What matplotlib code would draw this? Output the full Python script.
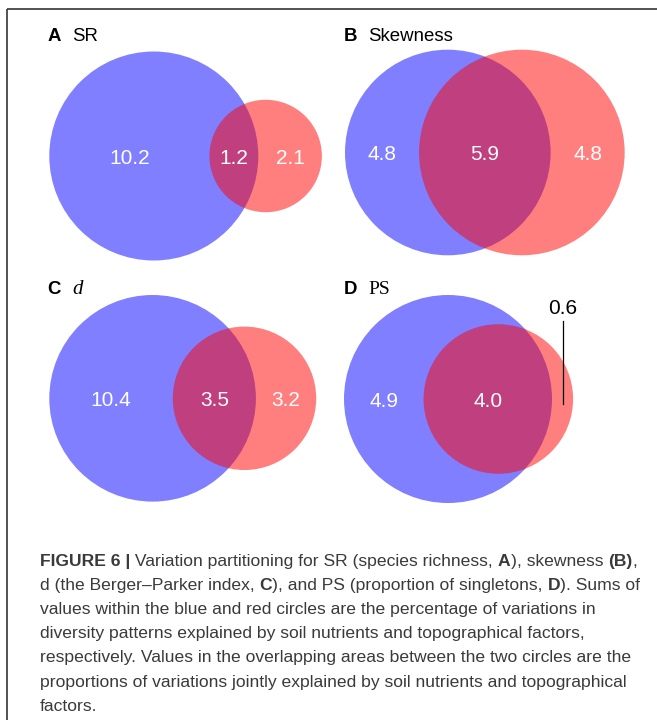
import numpy as np
import matplotlib
matplotlib.use("Agg")
import matplotlib.pyplot as plt
from matplotlib.patches import Circle
from matplotlib.font_manager import FontProperties

# ---------------- data ----------------
panel_letters = ["A", "B", "C", "D"]
panel_names = ["SR", "Skewness", "d", "PS"]
soil_only = [10.2, 4.8, 10.4, 4.9]      # blue circle only
shared = [1.2, 5.9, 3.5, 4.0]           # overlap
topo_only = [2.1, 4.8, 3.2, 0.6]        # red circle only

caption_lines = [
    [("FIGURE 6 |", "bold"), (" Variation partitioning for SR (species richness, ", "normal"),
     ("A", "bold"), ("), skewness ", "normal"), ("(B)", "bold"), (",", "normal")],
    [("d (the Berger\u2013Parker index, ", "normal"), ("C", "bold"),
     ("), and PS (proportion of singletons, ", "normal"), ("D", "bold"), ("). Sums of", "normal")],
    [("values within the blue and red circles are the percentage of variations in", "normal")],
    [("diversity patterns explained by soil nutrients and topographical factors,", "normal")],
    [("respectively. Values in the overlapping areas between the two circles are the", "normal")],
    [("proportions of variations jointly explained by soil nutrients and topographical", "normal")],
    [("factors.", "normal")],
]

# ---------------- layout (pixels) ----------------
W, H = 657, 720
big_radius = [104.5, 102.8, 103.3, 104.0]
left_edge = [49.3, 345.0, 49.3, 344.0]
center_y = [156.0, 152.5, 398.3, 399.0]
title_x = [47.3, 343.3, 47.3, 343.3]
title_gap = [24.4, 25.0, 25.0, 25.0]
title_base = [41.0, 41.0, 293.5, 294.5]
name_fonts = [dict(family="Liberation Sans"), dict(family="Liberation Sans"),
              dict(family="Liberation Serif", style="italic", size=15),
              dict(family="Liberation Serif", size=14)]

fig = plt.figure(figsize=(W / 100, H / 100), dpi=100)
ax = fig.add_axes([0, 0, 1, 1])
ax.set_xlim(0, W)
ax.set_ylim(H, 0)
ax.axis("off")

# frame (top and left)
ax.plot([6.5, W], [8.5, 8.5], color="#444444", lw=1.3, solid_capstyle="butt")
ax.plot([6.5, 6.5], [8.5, H], color="#444444", lw=1.3, solid_capstyle="butt")


def lens_area(r1, r2, d):
    if d >= r1 + r2:
        return 0.0
    if d <= abs(r1 - r2):
        return np.pi * min(r1, r2) ** 2
    a1 = r1 ** 2 * np.arccos((d ** 2 + r1 ** 2 - r2 ** 2) / (2 * d * r1))
    a2 = r2 ** 2 * np.arccos((d ** 2 + r2 ** 2 - r1 ** 2) / (2 * d * r2))
    a3 = 0.5 * np.sqrt((-d + r1 + r2) * (d + r1 - r2) * (d - r1 + r2) * (d + r1 + r2))
    return a1 + a2 - a3


label_font = dict(family="Liberation Sans", size=15)

for i in range(4):
    blue_tot = soil_only[i] + shared[i]
    red_tot = topo_only[i] + shared[i]
    k = np.pi * big_radius[i] ** 2 / max(blue_tot, red_tot)
    rb = np.sqrt(blue_tot * k / np.pi)
    rr = np.sqrt(red_tot * k / np.pi)
    target = shared[i] * k
    lo, hi = abs(rb - rr) + 1e-6, rb + rr
    for _ in range(200):
        mid = 0.5 * (lo + hi)
        if lens_area(rb, rr, mid) > target:
            lo = mid
        else:
            hi = mid
    d = 0.5 * (lo + hi)
    cxb = left_edge[i] + rb
    cxr = cxb + d
    cy = center_y[i]
    ax.add_patch(Circle((cxb, cy), rb, facecolor="blue", alpha=0.5, lw=0))
    ax.add_patch(Circle((cxr, cy), rr, facecolor="red", alpha=0.5, lw=0))

    x_blue_only = 0.5 * ((cxb - rb) + (cxr - rr))
    x_shared = 0.5 * ((cxr - rr) + (cxb + rb))
    x_red_only = 0.5 * ((cxb + rb) + (cxr + rr))
    ty = cy + 2.5
    ax.text(x_blue_only, ty, f"{soil_only[i]:.1f}", color="white", ha="center", va="center", **label_font)
    ax.text(x_shared, ty, f"{shared[i]:.1f}", color="white", ha="center", va="center", **label_font)
    if (cxr + rr) - (cxb + rb) > 40:
        ax.text(x_red_only, ty, f"{topo_only[i]:.1f}", color="white", ha="center", va="center", **label_font)
    else:
        top = cy - rr - 3
        ax.plot([x_red_only, x_red_only], [top, cy + 4.5], color="black", lw=0.9)
        ax.text(x_red_only, top - 3, f"{topo_only[i]:.1f}", color="black", ha="center", va="bottom", **label_font)

    # panel titles
    ax.text(title_x[i], title_base[i], panel_letters[i], fontsize=13.4, fontweight="bold",
            family="Liberation Sans", ha="left", va="baseline")
    nf = dict(size=13.4)
    nf.update(name_fonts[i])
    ax.text(title_x[i] + title_gap[i], title_base[i], panel_names[i], ha="left", va="baseline", **nf)

# ---------------- caption with mixed weights ----------------
renderer = fig.canvas.get_renderer()
cap_family = "Liberation Sans"
cap_color = "#3a3a3a"


def text_width(s, size, weight):
    prop = FontProperties(family=cap_family, size=size, weight=weight)
    w1, _, _ = renderer.get_text_width_height_descent(s + "|", prop, ismath=False)
    w2, _, _ = renderer.get_text_width_height_descent("|", prop, ismath=False)
    return w1 - w2


cap_x0 = 40.0
cap_target_right = 627.0
fit_line = caption_lines[5][0][0]
base_size = 10.0
w_base = text_width(fit_line, base_size, "normal")
cap_size = base_size * (cap_target_right - cap_x0) / w_base

cap_y0 = 566.0
cap_dy = 24.1
for li, runs in enumerate(caption_lines):
    x = cap_x0
    y = cap_y0 + li * cap_dy
    for s, wgt in runs:
        ax.text(x, y, s, fontsize=cap_size, fontweight=wgt, family=cap_family,
                color=cap_color, ha="left", va="baseline")
        x += text_width(s, cap_size, wgt)

fig.savefig("out.png", dpi=100)
